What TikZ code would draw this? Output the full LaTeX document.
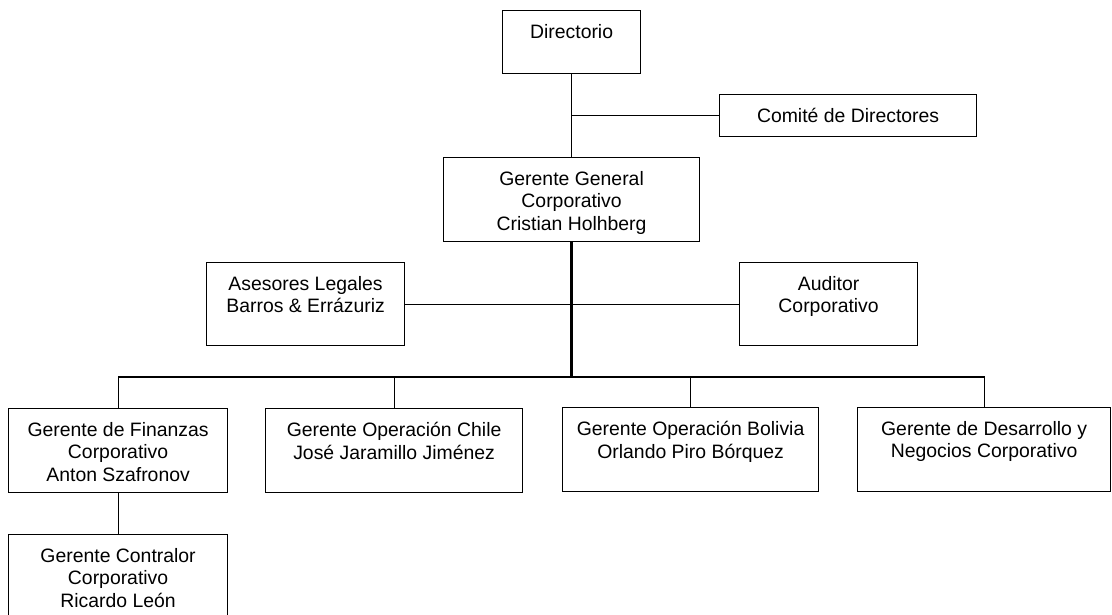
\documentclass[tikz,border=0pt]{standalone}
\usepackage{fontspec}
\setmainfont{Liberation Sans}
\usetikzlibrary{positioning}
\tikzset{
    caja/.style = {rectangle, draw=black, line width=1.2pt, inner sep=0pt, anchor=north west, fill=white},
    texto/.style = {align=center, inner sep=0pt, anchor=north, text=black, font=\fontsize{19.4}{22.6}\selectfont},
    linea/.style = {-, line width=1.2pt, black},
    lineag/.style = {-, line width=2.6pt, black}, % main trunk
}

\begin{document}
\begin{tikzpicture}[x=1pt, y=-1pt]
  \fill[white] (0,0) rectangle (1112,615);
  \useasboundingbox (0,0) rectangle (1112,615);

  % boxes
  \node[caja, minimum width=138, minimum height=63] (dir) at (502,10) {};
  \node[caja, minimum width=257, minimum height=42] (com) at (719,94) {};
  \node[caja, minimum width=256, minimum height=84] (gg) at (443,157) {};
  \node[caja, minimum width=198, minimum height=83] (ase) at (206,262) {};
  \node[caja, minimum width=178, minimum height=83] (aud) at (739,262) {};
  \node[caja, minimum width=219, minimum height=84] (fin) at (8,408) {};
  \node[caja, minimum width=257, minimum height=84] (chi) at (265,408) {};
  \node[caja, minimum width=256, minimum height=84] (bol) at (562,407) {};
  \node[caja, minimum width=253, minimum height=84] (des) at (857,407) {};
  \node[caja, minimum width=219, minimum height=91] (con) at (8,534) {};

  % texts
  \node[texto, below=14pt of dir.north] (dir-t) {Directorio};
  \node[texto, below=14pt of com.north] (com-t) {Comité de Directores};
  \node[texto, below=14pt of gg.north] (gg-t) {Gerente General\\Corporativo\\Cristian Holhberg};
  \node[texto, below=14pt of ase.north] (ase-t) {Asesores Legales\\Barros \& Errázuriz};
  \node[texto, below=14pt of aud.north] (aud-t) {Auditor\\Corporativo};
  \node[texto, below=14pt of fin.north] (fin-t) {Gerente de Finanzas\\Corporativo\\Anton Szafronov};
  \node[texto, below=14pt of chi.north] (chi-t) {Gerente Operación Chile\\José Jaramillo Jiménez};
  \node[texto, below=14pt of bol.north] (bol-t) {Gerente Operación Bolivia\\Orlando Piro Bórquez};
  \node[texto, below=14pt of des.north] (des-t) {Gerente de Desarrollo y\\Negocios Corporativo};
  \node[texto, below=14pt of con.north] (con-t) {Gerente Contralor\\Corporativo\\Ricardo León};

  % connectors
  \coordinate (ramal) at (dir.south |- com.west);
  \coordinate (barra) at (571,377);
  \draw[linea] (dir.south) -- (gg.north);
  \draw[linea] (ramal) -- (com.west);
  \draw[linea] (ase.east) -- (aud.west);
  \draw[linea] (fin.north) |- (barra) -| (des.north);
  \draw[linea] (chi.north) -- (chi.north |- barra);
  \draw[linea] (bol.north) -- (bol.north |- barra);
  \draw[lineag] (gg.south) |- (bol.north |- barra);
  \draw[linea] (fin.south) -- (con.north);
\end{tikzpicture}
\end{document}
